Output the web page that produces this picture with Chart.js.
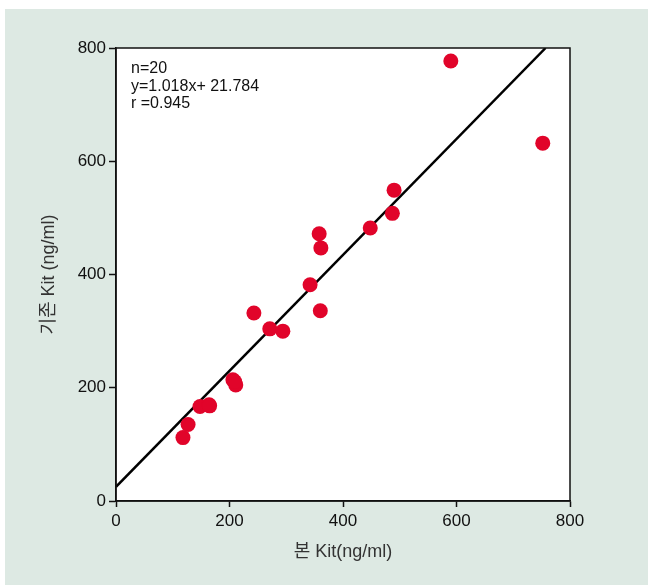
<!DOCTYPE html>
<html>
<head>
<meta charset="utf-8">
<script src="https://cdn.jsdelivr.net/npm/chart.js@4"></script>
<style>
  body { margin: 0; background: #fff; }
  #wrap { width: 650px; height: 585px; }
</style>
</head>
<body>
<div id="wrap"><canvas id="scatter" width="650" height="585"></canvas></div>
<script>
// measured values (x: 본 Kit, y: 기존 Kit), ng/ml
var newKit = [118, 127, 148, 164, 165, 206, 211, 209, 243, 271, 294, 342, 360, 358, 361, 448, 487, 490, 590, 752];
var oldKit = [112, 135, 167, 170, 168, 214, 205, 211, 332, 304, 300, 382, 336, 472, 447, 482, 508, 549, 777, 632];

// regression stats printed in the corner
var statLines = ['n=20', 'y=1.018x+ 21.784', 'r =0.945'];

// fit line as drawn in the figure
var fitX = [0, 757];
var fitY = [25, 800];

var axisTicks = [0, 200, 400, 600, 800];

var points = [];
for (var i = 0; i < newKit.length; i++) {
  points.push({x: newKit[i], y: oldKit[i]});
}
var fitLine = fitX.map(function(x, j) { return {x: x, y: fitY[j]}; });

var panelBg = {
  id: 'panelBg',
  beforeDraw: function(chart) {
    var ctx = chart.ctx, a = chart.chartArea;
    ctx.save();
    ctx.fillStyle = '#dde9e3';
    ctx.fillRect(5, 9, 643, 576);
    ctx.fillStyle = '#ffffff';
    ctx.fillRect(a.left, a.top, a.right - a.left, a.bottom - a.top);
    ctx.restore();
  },
  afterDraw: function(chart) {
    var ctx = chart.ctx, a = chart.chartArea;
    ctx.save();
    ctx.strokeStyle = '#111';
    ctx.lineWidth = 1.5;
    ctx.strokeRect(a.left, a.top, a.right - a.left, a.bottom - a.top);
    ctx.fillStyle = '#111';
    ctx.font = '16px "Liberation Sans", Arial, sans-serif';
    ctx.textBaseline = 'middle';
    for (var k = 0; k < statLines.length; k++) {
      ctx.fillText(statLines[k], a.left + 15, 69 + k * 17.5);
    }
    ctx.restore();
  }
};

var tickFont = {family: '"Liberation Sans", Arial, sans-serif', size: 17};
var titleFont = {family: '"Liberation Sans", "Noto Sans CJK KR", sans-serif', size: 18};

new Chart(document.getElementById('scatter').getContext('2d'), {
  type: 'scatter',
  data: {
    datasets: [{
      data: points,
      backgroundColor: '#e1042a',
      borderWidth: 0,
      pointRadius: 7.5,
      pointHoverRadius: 7.5,
      order: 1
    }, {
      type: 'line',
      data: fitLine,
      borderColor: '#000',
      borderWidth: 2.5,
      pointRadius: 0,
      fill: false,
      order: 2
    }]
  },
  options: {
    responsive: false,
    animation: false,
    events: [],
    layout: { padding: {left: 0, right: 80, top: 48, bottom: 0} },
    plugins: { legend: {display: false}, tooltip: {enabled: false} },
    scales: {
      x: {
        type: 'linear', min: 0, max: 800,
        afterBuildTicks: function(s) { s.ticks = axisTicks.map(function(v) { return {value: v}; }); },
        afterFit: function(s) { s.height = 84; },
        grid: { drawOnChartArea: false, drawTicks: true, tickLength: 6, color: '#111', tickWidth: 1.5 },
        border: { display: true, color: '#111', width: 1.5 },
        ticks: { font: tickFont, color: '#111', padding: 4, maxRotation: 0 },
        title: { display: true, text: '본 Kit(ng/ml)', font: titleFont, color: '#333', padding: {top: 0, bottom: 22} }
      },
      y: {
        type: 'linear', min: 0, max: 800,
        afterBuildTicks: function(s) { s.ticks = axisTicks.map(function(v) { return {value: v}; }); },
        afterFit: function(s) { s.width = 116; },
        grid: { drawOnChartArea: false, drawTicks: true, tickLength: 7, color: '#111', tickWidth: 1.5 },
        border: { display: true, color: '#111', width: 1.5 },
        ticks: { font: tickFont, color: '#111', padding: 3 },
        title: { display: true, text: '기존 Kit (ng/ml)', font: titleFont, color: '#333', padding: {top: 38, bottom: 0} }
      }
    }
  },
  plugins: [panelBg]
});
</script>
</body>
</html>
